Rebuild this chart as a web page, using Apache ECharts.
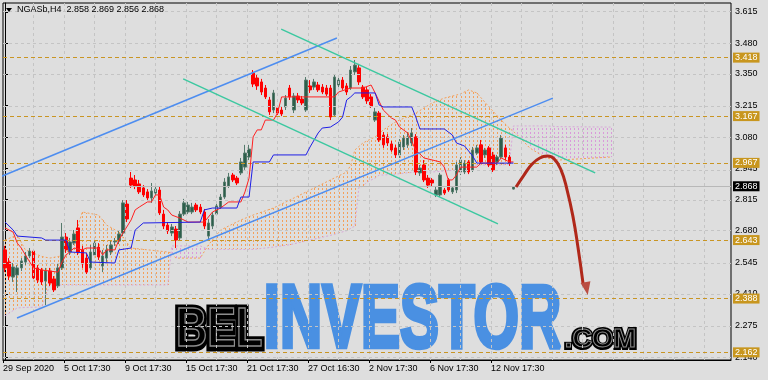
<!DOCTYPE html>
<html><head><meta charset="utf-8">
<script src="https://cdn.jsdelivr.net/npm/echarts@6/dist/echarts.min.js"></script>
<style>html,body{margin:0;padding:0;background:#DEDEDE}#c{width:768px;height:380px}</style>
</head><body><div id="c"></div>
<script>
// ---- data ----
const open = [2.598,2.546,2.482,2.491,2.521,2.546,2.572,2.593,2.521,2.512,
 2.465,2.508,2.474,2.444,2.521,2.653,2.589,2.627,2.692,2.598,
 2.563,2.521,2.576,2.610,2.529,2.563,2.589,2.632,2.636,2.670,
 2.794,2.905,2.897,2.880,2.863,2.846,2.820,2.841,2.854,2.751,
 2.704,2.670,2.687,2.649,2.751,2.760,2.760,2.790,2.781,2.760,
 2.657,2.700,2.751,2.781,2.824,2.871,2.918,2.905,2.927,2.952,
 2.995,3.354,3.333,3.316,3.290,3.239,3.196,3.205,3.196,3.209,
 3.290,3.196,3.256,3.243,3.196,3.299,3.294,3.303,3.294,3.290,
 3.290,3.175,3.303,3.324,3.299,3.290,3.359,3.376,3.294,3.282,
 3.252,3.153,3.183,3.089,3.081,3.051,3.034,3.004,3.038,3.047,
 3.055,3.081,2.927,2.961,2.905,2.897,2.833,2.833,2.854,2.897,
 2.846,2.854,2.931,2.931,2.974,2.940,3.012,3.047,3.004,3.034,
 3.004,2.974,2.995,3.034,2.995,2.858];
const close = [2.521,2.486,2.525,2.521,2.551,2.572,2.593,2.478,2.469,2.461,
 2.508,2.456,2.427,2.521,2.653,2.598,2.632,2.666,2.589,2.538,
 2.503,2.589,2.627,2.568,2.572,2.598,2.619,2.636,2.666,2.799,
 2.730,2.875,2.871,2.846,2.833,2.820,2.850,2.858,2.756,2.700,
 2.679,2.696,2.640,2.751,2.799,2.790,2.781,2.769,2.760,2.700,
 2.713,2.747,2.786,2.824,2.888,2.910,2.897,2.884,2.974,3.012,
 3.029,3.307,3.299,3.273,3.252,3.188,3.269,3.183,3.179,3.247,
 3.252,3.256,3.239,3.226,3.324,3.282,3.316,3.282,3.273,3.264,
 3.166,3.337,3.324,3.290,3.273,3.367,3.388,3.316,3.252,3.235,
 3.213,3.188,3.068,3.047,3.055,3.025,3.004,3.059,3.076,3.081,
 3.098,2.931,2.948,2.897,2.875,2.884,2.854,2.918,2.841,2.854,
 2.863,2.961,2.982,2.969,2.931,3.025,3.034,2.974,3.025,2.961,
 2.940,2.995,3.076,2.995,2.969,2.868];
const low = [2.503,2.469,2.461,2.418,2.508,2.533,2.563,2.465,2.456,2.448,
 2.362,2.444,2.418,2.435,2.512,2.585,2.576,2.619,2.576,2.521,
 2.495,2.512,2.563,2.555,2.503,2.546,2.576,2.615,2.623,2.657,
 2.717,2.863,2.858,2.837,2.824,2.811,2.799,2.833,2.747,2.687,
 2.666,2.657,2.606,2.636,2.743,2.751,2.751,2.760,2.751,2.687,
 2.640,2.687,2.743,2.773,2.816,2.863,2.888,2.875,2.918,2.940,
 2.982,3.294,3.282,3.260,3.243,3.175,3.183,3.175,3.170,3.196,
 3.239,3.183,3.226,3.217,3.188,3.269,3.282,3.273,3.264,3.256,
 3.153,3.166,3.294,3.282,3.260,3.282,3.346,3.303,3.243,3.222,
 3.205,3.145,3.059,3.034,3.042,3.017,2.991,2.991,3.025,3.034,
 3.042,2.918,2.914,2.888,2.863,2.871,2.824,2.824,2.833,2.846,
 2.837,2.841,2.918,2.922,2.922,2.931,3.004,2.965,2.991,2.952,
 2.931,2.961,2.987,2.982,2.957,2.856];
const high = [2.615,2.563,2.542,2.533,2.563,2.589,2.606,2.602,2.533,2.521,
 2.521,2.521,2.486,2.538,2.713,2.670,2.649,2.683,2.726,2.615,
 2.580,2.619,2.640,2.627,2.598,2.619,2.640,2.649,2.683,2.811,
 2.811,2.931,2.918,2.897,2.875,2.858,2.884,2.875,2.867,2.769,
 2.717,2.709,2.700,2.764,2.816,2.803,2.799,2.799,2.794,2.773,
 2.730,2.760,2.799,2.837,2.905,2.927,2.927,2.914,2.991,3.047,
 3.047,3.367,3.346,3.329,3.303,3.252,3.282,3.217,3.209,3.260,
 3.303,3.269,3.269,3.256,3.337,3.324,3.329,3.316,3.307,3.303,
 3.303,3.350,3.337,3.337,3.311,3.384,3.410,3.393,3.303,3.294,
 3.264,3.205,3.192,3.102,3.093,3.064,3.047,3.072,3.089,3.102,
 3.119,3.093,2.961,2.982,2.918,2.905,2.867,2.927,2.863,2.905,
 2.871,2.974,2.995,2.982,2.982,3.038,3.047,3.068,3.034,3.042,
 3.017,3.004,3.089,3.047,3.004,2.869];

// Ichimoku lines (bar index, price) at their vertices
const tenkanIdx = [0,2,3,4,5,7,9,13,14,15,17,19,20,23,24,25,27,28,29,31,32,33,35,36,37,38,39,40,41,43,45,49,51,53,55,58,59,60,61,62,63,64,66,67,68,81,82,85,88,90,91,93,95,96,97,99,101,103,107,108,109,110,111,112,116,117,121,122,124,125];
const tenkanVal = [2.692,2.674,2.627,2.606,2.576,2.521,2.512,2.503,2.546,2.576,2.606,2.598,2.606,2.606,2.576,2.598,2.598,2.640,2.670,2.726,2.769,2.781,2.803,2.803,2.833,2.833,2.781,2.769,2.747,2.734,2.717,2.717,2.760,2.777,2.803,2.803,2.846,2.905,3.081,3.111,3.111,3.153,3.153,3.183,3.252,3.252,3.273,3.290,3.290,3.303,3.269,3.196,3.162,3.153,3.123,3.098,3.025,2.991,2.974,2.952,2.897,2.897,2.918,2.952,2.952,2.969,2.969,2.991,2.974,2.974];
const kijunIdx = [0,2,3,9,10,15,16,20,21,27,28,31,32,34,48,49,51,57,58,60,61,65,66,74,75,77,78,80,82,83,84,85,86,91,92,93,100,101,102,108,109,110,111,113,115,116,125];
const kijunVal = [2.717,2.683,2.657,2.649,2.640,2.640,2.589,2.585,2.546,2.542,2.598,2.606,2.683,2.713,2.717,2.769,2.777,2.777,2.824,2.824,2.974,2.974,3.004,3.004,3.038,3.098,3.119,3.123,3.145,3.166,3.239,3.252,3.269,3.269,3.217,3.209,3.209,3.166,3.115,3.115,3.102,3.089,3.055,3.042,2.999,2.969,2.969];
const cloudIdx = [0,3,5,9,11,15,18,19,23,25,28,31,40,41,42,48,50,53,58,61,66,70,75,80,84,85,86,87,88,89,91,92,93,96,101,105,108,111,112,114,116,119,122,124,125,126,129,133,136,149];
const spanA = [2.640,2.662,2.598,2.570,2.563,2.576,2.704,2.760,2.747,2.704,2.674,2.606,2.589,2.585,2.563,2.563,2.619,2.683,2.726,2.747,2.777,2.811,2.854,2.897,2.931,2.960,3.025,3.040,3.055,3.064,3.081,3.096,3.111,3.145,3.183,3.226,3.247,3.260,3.265,3.282,3.269,3.209,3.153,3.119,3.104,3.089,3.034,2.991,2.982,2.995];
const spanB = [2.316,2.350,2.352,2.354,2.448,2.448,2.448,2.448,2.448,2.448,2.448,2.448,2.448,2.615,2.615,2.615,2.600,2.600,2.600,2.600,2.610,2.620,2.640,2.660,2.680,2.690,2.700,2.865,2.870,2.888,2.905,2.918,2.918,2.922,2.931,2.931,2.935,2.940,2.961,2.961,2.961,2.961,2.961,2.965,3.128,3.128,3.128,3.128,3.125,3.123];

// drawn objects (bar index, price)
const blueUpper = [[-1.23,2.910],[81.6,3.504]];
const blueLower = [[2.95,2.307],[134.7,3.247]];
const tealUpper = [[67.9,3.542],[145.1,2.927]];
const tealLower = [[43.8,3.329],[121.2,2.709]];
const arrowPath = [[125.65,2.867],[127.6,2.918],[129.6,2.965],[131.5,2.991],[133.3,2.999],[135.0,2.987],[136.7,2.940],[138.2,2.854],[139.7,2.735],[140.9,2.606],[142.1,2.457]];
const arrowHead = [[143.0,2.433]];

const levels = [3.418,3.167,2.967,2.643,2.388,2.162];
const yTicks = [3.615,3.480,3.350,3.215,3.080,2.945,2.815,2.680,2.545,2.410,2.275,2.140];
const dateLabels = ['29 Sep 2020','5 Oct 17:30','9 Oct 17:30','15 Oct 17:30','21 Oct 17:30','27 Oct 16:30','2 Nov 17:30','6 Nov 17:30','12 Nov 17:30'];
const dateLabelBars = [0,15,30,45,60,75,90,105,120];
const SLOTS = 179;

// ---- build ----
const n = open.length;
const last = n - 1;
const candleData = open.map((o,i)=>[o, close[i], low[i], high[i]]);
const cats = Array.from({length:SLOTS},(_,i)=>String(i));
const pairs = (a,b)=>a.map((v,i)=>[v,b[i]]);
const xTickVals = dateLabelBars.map(b=>b-0.5);
const vGrid = Array.from({length:23},(_,k)=>-0.5+7.5*(k+1));
const segs = [];
for(let k=0;k<cloudIdx.length-1;k++) segs.push([cloudIdx[k],spanA[k],spanB[k],cloudIdx[k+1],spanA[k+1],spanB[k+1], k===cloudIdx.length-2?1:0]);

const FONT = '"Liberation Sans", Arial, sans-serif';
const header = 'NGASb,H4  ' + [open[last],high[last],low[last],close[last]].map(v=>v.toFixed(3)).join(' ');
const fmt = v => v.toFixed(3);

// fit a watermark word into a pixel box (decoration only)
const mctx = document.createElement('canvas').getContext('2d');
function fitText(text, font, box, fill, stroke, lw, z){
  mctx.font = font; mctx.textBaseline = 'middle'; mctx.textAlign = 'left';
  const m = mctx.measureText(text);
  const asc = m.actualBoundingBoxAscent, desc = m.actualBoundingBoxDescent;
  const l = m.actualBoundingBoxLeft, r = m.actualBoundingBoxRight;
  const L = box[0]+lw/2, T = box[1]+lw/2, R = box[2]-lw/2, B = box[3]-lw/2;
  const sx = (R-L)/(l+r), sy = (B-T)/(asc+desc);
  return {type:'text', z:z, x: L + sx*l, y: T + sy*asc, scaleX: sx, scaleY: sy,
    style:{text:text, font:font, fill:fill, stroke:stroke, lineWidth:lw/Math.min(sx,sy), align:'left', verticalAlign:'middle'}};
}
const WF = 'bold 80px "Liberation Sans", Arial, sans-serif';

function cloudItem(params, api){
  const i0=api.value(0),a0=api.value(1),b0=api.value(2),i1=api.value(3),a1=api.value(4),b1=api.value(5),isLast=api.value(6);
  const children=[];
  for(let k=Math.ceil(i0); k<i1 || (isLast && k<=i1); k++){
    const t=(k-i0)/(i1-i0);
    const a=a0+(a1-a0)*t, b=b0+(b1-b0)*t;
    const pa=api.coord([k,a]), pb=api.coord([k,b]);
    const x=Math.round(pa[0])+0.5;
    const top=Math.round(Math.min(pa[1],pb[1])), bot=Math.round(Math.max(pa[1],pb[1]));
    children.push({type:'line',shape:{x1:x,y1:top,x2:x,y2:bot},
      style:{stroke:a>=b?'#F4A05A':'#DA9ADA',lineWidth:1,lineDash:[2,2],lineDashOffset:top%4}});
  }
  return {type:'group',children};
}

const chart = echarts.init(document.getElementById('c'), null, {renderer:'canvas'});
chart.setOption({
  animation:false,
  backgroundColor:'#DEDEDE',
  grid:{left:3,right:37,top:3,bottom:20,show:true,borderColor:'#000',borderWidth:1,containLabel:false,outerBoundsMode:'none'},
  xAxis:[
    {type:'category',data:cats,boundaryGap:true,show:false},
    {type:'value',min:-0.5,max:SLOTS-0.5,position:'bottom',
     axisLine:{show:true,lineStyle:{color:'#000',width:1}},
     axisTick:{show:true,length:3,customValues:xTickVals,lineStyle:{color:'#000'}},
     axisLabel:{show:true,customValues:xTickVals,align:'left',margin:4,color:'#000',fontSize:9,fontFamily:FONT,
       formatter:v=>dateLabels[Math.round((v+0.5)/15)]||''},
     splitLine:{show:false}}
  ],
  yAxis:{type:'value',position:'right',min:2.1273,max:3.6535,scale:true,
    axisLine:{show:true,lineStyle:{color:'#000'}},
    axisTick:{show:true,length:3,customValues:yTicks,lineStyle:{color:'#000'}},
    axisLabel:{show:true,customValues:yTicks,margin:4,color:'#000',fontSize:9,fontFamily:FONT,formatter:fmt},
    splitLine:{show:false}},
  graphic:[
    {type:'polygon',z:10,shape:{points:[[6,8],[12,8],[9,12]]},style:{fill:'#000'}},
    {type:'text',z:10,x:17,y:10,style:{text:header,font:'9px '+FONT,fill:'#000',verticalAlign:'middle'}},
    fitText('BEL', WF, [175,305,265,350], '#000', '#000', 7, 1),
    fitText('BEL', WF, [178,308,262,347], 'rgba(0,0,0,0)', '#8C8C8C', 1.2, 1),
    fitText('INVESTOR', WF, [266,283,562,350], '#4A90E2', '#4A90E2', 3, 1),
    fitText('.COM', WF, [564,326,637,350], '#000', '#000', 4, 1),
    fitText('.COM', WF, [566,328,635,348], 'rgba(0,0,0,0)', '#8C8C8C', 1, 1)
  ],
  series:[
    {type:'line',xAxisIndex:1,data:[],z:1,silent:true,
     markLine:{silent:true,symbol:['none','none'],label:{show:false},lineStyle:{color:'#C4C4C4',type:[3,3],width:1},
       data:[...yTicks.map(v=>({yAxis:v})),...vGrid.map(v=>({xAxis:v}))]}},
    {type:'custom',xAxisIndex:1,z:2,silent:true,data:segs,encode:{x:[0,3],y:[1,2,4,5]},renderItem:cloudItem},
    {type:'line',xAxisIndex:1,z:2,data:pairs(cloudIdx,spanA),showSymbol:false,lineStyle:{color:'#F4A05A',width:1,type:[2,2]}},
    {type:'line',xAxisIndex:1,z:2,data:pairs(cloudIdx,spanB),showSymbol:false,lineStyle:{color:'#D8A8D8',width:1,type:[2,2]}},
    {type:'line',xAxisIndex:1,z:3,data:[],
     markLine:{silent:true,symbol:['none','none'],lineStyle:{color:'#B8B8B8',type:'solid',width:1},
       label:{show:true,position:'end',distance:2,formatter:p=>p.name,color:'#fff',backgroundColor:'#000',padding:[1,2,0,2],fontSize:9,fontFamily:FONT},
       data:[{yAxis:close[last],name:fmt(close[last])}]}},
    {type:'candlestick',xAxisIndex:0,z:4,data:candleData,barWidth:3,
     itemStyle:{color:'#2D5F4B',color0:'#FF0000',borderColor:'#557A6C',borderColor0:'#FF0000',borderWidth:1}},
    {type:'line',xAxisIndex:1,z:5,data:pairs(tenkanIdx,tenkanVal),showSymbol:false,lineStyle:{color:'#FF2020',width:1}},
    {type:'line',xAxisIndex:1,z:5,data:pairs(kijunIdx,kijunVal),showSymbol:false,lineStyle:{color:'#1E1EE6',width:1}},
    {type:'line',xAxisIndex:1,z:6,data:blueUpper,showSymbol:false,lineStyle:{color:'#4D8DF0',width:1.5}},
    {type:'line',xAxisIndex:1,z:6,data:blueLower,showSymbol:false,lineStyle:{color:'#4D8DF0',width:1.5}},
    {type:'line',xAxisIndex:1,z:6,data:tealUpper,showSymbol:false,lineStyle:{color:'#3CC8A0',width:1.5}},
    {type:'line',xAxisIndex:1,z:6,data:tealLower,showSymbol:false,lineStyle:{color:'#3CC8A0',width:1.5}},
    {type:'line',xAxisIndex:1,z:7,data:[],
     markLine:{silent:true,symbol:['none','none'],lineStyle:{color:'#C99523',type:[4,3],width:1},
       label:{show:true,position:'end',distance:2,formatter:p=>p.name,color:'#fff',backgroundColor:'#C8961E',padding:[1,2,0,2],fontSize:9,fontFamily:FONT},
       data:levels.map(v=>({yAxis:v,name:fmt(v)}))}},
    {type:'line',xAxisIndex:1,z:8,data:arrowPath,smooth:0.5,showSymbol:false,lineStyle:{color:'#B0281A',width:3}},
    {type:'scatter',xAxisIndex:1,z:8,data:arrowHead,symbol:'triangle',symbolSize:[10,13],symbolRotate:190,itemStyle:{color:'#B0281A'}}
  ]
});
</script></body></html>
